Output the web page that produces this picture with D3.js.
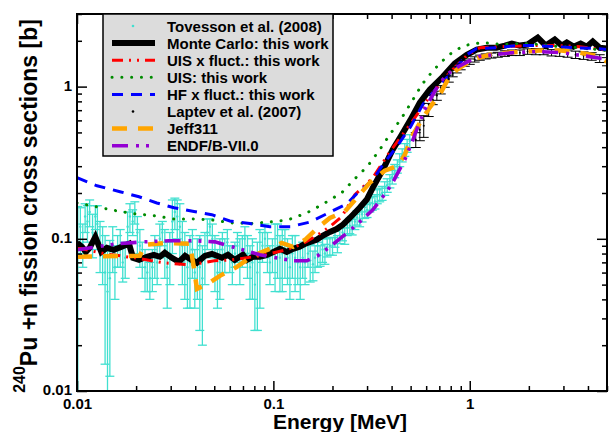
<!DOCTYPE html>
<html><head><meta charset="utf-8">
<script src="https://cdn.jsdelivr.net/npm/d3@7"></script>
<style>
body{margin:0;background:#fff;}
svg{display:block;font-family:"Liberation Sans",Arial,Helvetica,sans-serif;font-weight:bold;}
</style>
</head><body>
<svg width="612" height="432"></svg>
<script>
// ---------------- data ----------------
const xMajorTicks = [0.01, 0.1, 1];
const xTickLabels = ["0.01", "0.1", "1"];
const xMinorTicks = [0.02,0.03,0.04,0.05,0.06,0.07,0.08,0.09,0.2,0.3,0.4,0.5,0.6,0.7,0.8,0.9,2,3,4,5];
const yMajorTicks = [0.01, 0.1, 1];
const yTickLabels = ["0.01", "0.1", "1"];
const yMinorTicks = [0.02,0.03,0.04,0.05,0.06,0.07,0.08,0.09,0.2,0.3,0.4,0.5,0.6,0.7,0.8,0.9,2,3];

const legendLabels = ["Tovesson et al. (2008)","Monte Carlo: this work","UIS x fluct.: this work","UIS: this work","HF x fluct.: this work","Laptev et al. (2007)","Jeff311","ENDF/B-VII.0"];

// Tovesson et al. (2008)
const tovE = [0.0101,0.0104,0.0107,0.0110,0.0113,0.0116,0.0120,0.0124,0.0127,0.0131,
0.0135,0.0139,0.0143,0.0147,0.0152,0.0156,0.0161,0.0166,
0.0171,0.0176,0.0181,0.0186,0.0192,0.0197,0.0203,0.0209,0.0215,0.0222,
0.0228,0.0235,0.0242,0.0249,0.0256,0.0264,0.0272,0.0280,0.0288,0.0297,
0.0306,0.0315,0.0324,0.0334,0.0344,0.0354,0.0365,0.0376,0.0387,0.0398,
0.041,0.0422,0.0435,0.0448,0.0461,0.0475,0.0489,0.0504,0.0519,0.0534,0.055,0.0566,0.0583,0.060,
0.0618,0.0637,0.0656,0.0675,0.0695,0.0716,0.0738,0.076,0.0782,0.0805,0.0829,0.0854,0.088,0.0906,0.0933,0.096,0.0989,
0.102,0.105,0.108,0.111,0.1145,0.118,0.1214,0.125,0.129,0.133,0.137,0.141,0.145,0.15,0.154,0.159,0.163,0.168,0.173,0.178,0.183,0.188,0.194,
0.2,0.206,0.212,0.218,0.225,0.231,0.238,0.245,0.252,0.26,0.267,0.275,0.283,0.292,0.30,0.31,0.319,0.329,0.338,0.348,0.358,0.369,0.38,0.392,0.403,0.415,0.428,0.44,0.453,0.467,0.48,0.495];
const tovS = [0.085,0.12,0.095,0.14,0.13,0.15,0.11,0.14,0.125,0.095,
0.085,0.06,0.045,0.055,0.09,0.065,0.085,0.09,
0.07,0.075,0.12,0.14,0.13,0.15,0.11,0.09,0.075,0.065,
0.06,0.055,0.065,0.08,0.07,0.1,0.11,0.085,0.065,0.08,
0.13,0.15,0.14,0.12,0.09,0.075,0.065,0.07,0.085,0.06,
0.07,0.065,0.055,0.08,0.11,0.12,0.1,0.075,0.06,0.07,0.085,0.08,0.095,0.075,
0.07,0.08,0.09,0.075,0.085,0.1,0.08,0.065,0.07,0.05,0.06,0.075,0.09,0.1,0.085,0.07,0.08,
0.085,0.09,0.075,0.08,0.085,0.075,0.065,0.08,0.075,0.07,0.065,0.075,0.07,0.08,0.072,0.068,0.075,0.08,0.078,0.085,0.08,0.088,0.09,
0.09,0.1,0.093,0.105,0.11,0.105,0.118,0.122,0.12,0.13,0.138,0.135,0.145,0.152,0.155,0.168,0.172,0.176,0.19,0.195,0.2,0.215,0.225,0.24,0.255,0.28,0.3,0.33,0.355,0.385,0.41,0.44];
const tovErr = [0.078,0.04,0.03,0.03,0.035,0.03,0.035,0.025,0.04,0.035,
0.035,0.045,0.038,0.0425,0.03,0.025,0.02,0.025,
0.018,0.02,0.03,0.03,0.025,0.025,0.03,0.025,0.02,0.02,
0.015,0.015,0.02,0.025,0.02,0.025,0.02,0.03,0.03,0.03,
0.05,0.035,0.04,0.05,0.04,0.035,0.03,0.035,0.03,0.025,
0.03,0.04,0.035,0.03,0.025,0.015,0.025,0.03,0.025,0.03,0.025,0.02,0.02,0.015,
0.02,0.015,0.02,0.025,0.02,0.02,0.025,0.025,0.03,0.025,0.035,0.04,0.02,0.025,0.025,0.02,0.02,
0.04,0.035,0.03,0.035,0.03,0.025,0.025,0.025,0.03,0.02,0.025,0.02,0.02,0.015,0.02,0.015,0.015,0.015,0.012,0.015,0.012,0.012,0.012,
0.012,0.012,0.012,0.012,0.013,0.013,0.013,0.014,0.014,0.015,0.015,0.015,0.016,0.016,0.017,0.018,0.018,0.019,0.02,0.02,0.021,0.022,0.023,0.024,0.026,0.028,0.03,0.032,0.035,0.037,0.04,0.043];

// Monte Carlo: this work
const mcE = [0.01,0.0106,0.0111,0.0116,0.0124,0.0133,0.0142,0.0154,0.0169,0.0184,0.0193,0.0207,0.0227,0.0246,0.0264,0.028,0.0304,0.033,0.0355,0.0376,0.0408,0.0448,0.0486,0.0516,0.0547,0.0587,0.0636,0.070,0.0733,0.0787,0.0854,0.0927,0.1,0.108,0.117,0.126,0.136,0.145,0.154,0.166,0.179,0.194,0.21,0.226,0.245,0.275,0.299,0.321,0.361,0.405,0.451,0.5,0.557,0.625,0.729,0.839,0.966,1.086,1.22,1.37,1.51,1.64,1.80,1.97,2.22,2.44,2.71,2.94,3.12,3.38,3.67,3.94,4.23,4.59,5];
const mcS = [0.094,0.0886,0.082,0.0873,0.103,0.082,0.0873,0.0847,0.0886,0.0927,0.075,0.0727,0.0762,0.0785,0.0762,0.0809,0.075,0.0706,0.0773,0.0738,0.0695,0.0773,0.0797,0.0773,0.075,0.0785,0.0727,0.0785,0.0727,0.0762,0.0762,0.0785,0.082,0.0859,0.082,0.0859,0.0886,0.0927,0.0955,0.0985,0.105,0.111,0.116,0.124,0.137,0.160,0.181,0.217,0.284,0.385,0.484,0.607,0.785,0.955,1.16,1.42,1.62,1.75,1.80,1.80,1.86,1.92,1.86,1.89,2.10,1.86,2.04,1.86,1.95,1.83,1.92,1.83,1.98,1.80,1.78];

// UIS x fluct.: this work
const uisFlE = [0.01,0.0139,0.0197,0.0277,0.0376,0.05,0.0615,0.0854,0.117,0.141,0.166,0.194,0.223,0.26,0.321,0.392,0.5,0.625,0.791,0.966,1.125,1.42,2.02,2.87,3.63,4.75,5];
const uisFlS = [0.0873,0.0797,0.075,0.0695,0.0675,0.0717,0.0727,0.0773,0.0847,0.0927,0.105,0.120,0.140,0.195,0.252,0.373,0.571,0.859,1.24,1.60,1.80,1.83,1.86,1.86,1.83,1.75,1.73];

// UIS: this work
const uisE = [0.01,0.01265,0.0158,0.0197,0.0246,0.0312,0.0389,0.0486,0.0615,0.076,0.096,0.1185,0.148,0.183,0.223,0.26,0.303,0.348,0.392,0.451,0.507,0.57,0.656,0.773,0.931,1.16,1.46,1.84,2.30,2.87,3.63,4.53,5];
const uisS = [0.172,0.162,0.153,0.146,0.142,0.135,0.135,0.133,0.127,0.126,0.129,0.133,0.148,0.172,0.201,0.248,0.302,0.385,0.484,0.625,0.797,1.03,1.29,1.60,1.86,1.95,1.89,1.92,1.89,1.83,1.80,1.75,1.73];

// HF x fluct.: this work
const hfE = [0.01,0.01265,0.01655,0.0207,0.0255,0.0312,0.0394,0.0486,0.06,0.076,0.096,0.122,0.154,0.187,0.237,0.266,0.321,0.361,0.425,0.5,0.577,0.68,0.819,0.966,1.086,1.37,1.73,2.19,2.77,3.5,4.43,5];
const hfS = [0.252,0.223,0.204,0.189,0.172,0.160,0.151,0.144,0.131,0.126,0.120,0.120,0.129,0.146,0.170,0.198,0.244,0.307,0.403,0.546,0.762,0.985,1.255,1.62,1.78,1.80,1.86,1.86,1.83,1.80,1.78,1.75];

// Laptev et al. (2007)
const lapE = [0.531,0.557,0.583,0.618,0.648,0.680,0.712,0.746,0.782,0.819,0.859,0.899,0.944,1.0,1.06,1.125,1.205,1.29,1.39,1.51,1.64,1.80,1.97,2.17,2.38,2.61,2.87,3.15,3.46,3.80,4.18,4.59,5];
const lapS = [0.448,0.521,0.554,0.706,0.821,0.873,0.955,1.05,1.13,1.22,1.29,1.35,1.42,1.46,1.51,1.55,1.58,1.60,1.62,1.65,1.67,1.67,1.70,1.70,1.70,1.67,1.67,1.65,1.62,1.60,1.58,1.53,1.46];
const lapErr = [0.05,0.08,0.09,0.07,0.06,0.06,0.06,0.06,0.06,0.06,0.06,0.06,0.06,0.06,0.06,0.06,0.06,0.06,0.06,0.07,0.07,0.07,0.07,0.08,0.08,0.08,0.09,0.09,0.09,0.09,0.09,0.09,0.09];

// Jeff311
const jeffE = [0.01,0.0209,0.0222,0.0287,0.0376,0.0394,0.0408,0.0464,0.0534,0.0652,0.0787,0.096,0.110,0.126,0.145,0.168,0.194,0.231,0.269,0.31,0.369,0.431,0.467,0.507,0.57,0.625,0.703,0.773,0.859,1.036,1.26,1.54,2.27,2.87,3.63,4.59,5];
const jeffS = [0.0762,0.0774,0.0914,0.094,0.0927,0.0645,0.0469,0.0506,0.0571,0.0654,0.0774,0.0859,0.094,0.0886,0.0985,0.118,0.137,0.151,0.189,0.234,0.280,0.302,0.357,0.469,0.607,0.728,0.886,1.11,1.29,1.51,1.62,1.67,1.73,1.73,1.67,1.58,1.46];

// ENDF/B-VII.0
const endfE = [0.01,0.01265,0.016,0.0219,0.0294,0.0408,0.0504,0.0615,0.0854,0.126,0.148,0.168,0.194,0.239,0.275,0.321,0.361,0.40,0.467,0.507,0.544,0.59,0.641,0.703,0.791,0.889,1,1.125,1.64,2.19,2.94,4,5];
const endfS = [0.0847,0.0886,0.0927,0.0955,0.097,0.097,0.0955,0.0886,0.0785,0.0717,0.0717,0.0773,0.0886,0.110,0.129,0.155,0.189,0.227,0.331,0.428,0.545,0.706,0.86,1.06,1.24,1.37,1.48,1.58,1.67,1.70,1.67,1.58,1.51];

// ---------------- chart ----------------
const W = 612, H = 432;
const M = {left: 77, right: 607, top: 14, bottom: 391};
const x = d3.scaleLog().domain([0.01, 5]).range([M.left, M.right]);
const y = d3.scaleLog().domain([0.01, 3]).range([M.bottom, M.top]);

const svg = d3.select("svg");
svg.append("rect").attr("width", W).attr("height", H).attr("fill", "#fff");
svg.append("defs").append("clipPath").attr("id", "clip")
  .append("rect").attr("x", M.left).attr("y", M.top)
  .attr("width", M.right - M.left).attr("height", M.bottom - M.top);

const plot = svg.append("g").attr("clip-path", "url(#clip)");
const zip = (a, b) => a.slice(0, Math.min(a.length, b.length)).map((v, i) => [v, b[i]]);
const line = d3.line().x(d => x(d[0])).y(d => y(d[1]));

function errorBars(g, E, S, Err, color, cap, r, sw) {
  const n = Math.min(E.length, S.length, Err.length);
  for (let i = 0; i < n; i++) {
    const cx = x(E[i]);
    const yHi = y(S[i] + Err[i]);
    const lo = S[i] - Err[i];
    const yLo = lo > 0 ? y(lo) : M.bottom + 20;
    g.append("line").attr("x1", cx).attr("x2", cx).attr("y1", yHi).attr("y2", yLo)
      .attr("stroke", color).attr("stroke-width", sw);
    g.append("line").attr("x1", cx - cap).attr("x2", cx + cap).attr("y1", yHi).attr("y2", yHi)
      .attr("stroke", color).attr("stroke-width", sw);
    if (lo > 0) g.append("line").attr("x1", cx - cap).attr("x2", cx + cap).attr("y1", yLo).attr("y2", yLo)
      .attr("stroke", color).attr("stroke-width", sw);
    g.append("circle").attr("cx", cx).attr("cy", y(S[i])).attr("r", r).attr("fill", color);
  }
}

const styles = {
  tov:  {color: "#40e0d0"},
  mc:   {color: "#000000", width: 6, dash: null},
  red:  {color: "#ff0000", width: 3, dash: "11,6,2,6,2,6"},
  green:{color: "#008b00", width: 3, dash: "0.1,9.7", cap: "round"},
  blue: {color: "#0000ff", width: 3, dash: "11,8"},
  lap:  {color: "#000000"},
  jeff: {color: "#ffa500", width: 4.5, dash: "15,11"},
  endf: {color: "#9400d3", width: 3.6, dash: "16,8,3,7,3,7"}
};

function drawLine(E, S, st) {
  const p = plot.append("path").datum(zip(E, S)).attr("d", line)
    .attr("fill", "none").attr("stroke", st.color).attr("stroke-width", st.width)
    .attr("stroke-linejoin", "miter").attr("stroke-miterlimit", 4);
  if (st.dash) p.attr("stroke-dasharray", st.dash);
  if (st.cap) p.attr("stroke-linecap", st.cap);
}

errorBars(plot.append("g"), tovE, tovS, tovErr, styles.tov.color, 4.5, 1.2, 1.3);
drawLine(mcE, mcS, styles.mc);
drawLine(uisFlE, uisFlS, styles.red);
drawLine(uisE, uisS, styles.green);
drawLine(hfE, hfS, styles.blue);
errorBars(plot.append("g"), lapE, lapS, lapErr, styles.lap.color, 5, 1, 1);
drawLine(jeffE, jeffS, styles.jeff);
drawLine(endfE, endfS, styles.endf);

// ---------------- axes ----------------
function styleAxis(g) {
  g.select(".domain").remove();
  g.selectAll(".tick line").attr("stroke", "#000").attr("stroke-width", 1.5);
  g.selectAll("text").attr("font-size", 15).attr("font-weight", "bold")
    .attr("font-family", "'Liberation Sans', Arial, sans-serif").attr("fill", "#000");
}
const lbl = (arr, ticks) => (d) => arr[ticks.indexOf(d)];

svg.append("g").attr("transform", `translate(0,${M.bottom})`)
  .call(d3.axisBottom(x).tickValues(xMajorTicks).tickFormat(lbl(xTickLabels, xMajorTicks)).tickSizeInner(-10).tickSizeOuter(0).tickPadding(7.5))
  .call(styleAxis);
svg.append("g").attr("transform", `translate(0,${M.bottom})`)
  .call(d3.axisBottom(x).tickValues(xMinorTicks).tickFormat("").tickSizeInner(-5).tickSizeOuter(0))
  .call(styleAxis);
svg.append("g").attr("transform", `translate(0,${M.top})`)
  .call(d3.axisTop(x).tickValues(xMajorTicks).tickFormat("").tickSizeInner(-10).tickSizeOuter(0))
  .call(styleAxis);
svg.append("g").attr("transform", `translate(0,${M.top})`)
  .call(d3.axisTop(x).tickValues(xMinorTicks).tickFormat("").tickSizeInner(-5).tickSizeOuter(0))
  .call(styleAxis);
const yAx = svg.append("g").attr("transform", `translate(${M.left},0)`)
  .call(d3.axisLeft(y).tickValues(yMajorTicks).tickFormat(lbl(yTickLabels, yMajorTicks)).tickSizeInner(-10).tickSizeOuter(0).tickPadding(5))
  .call(styleAxis);
yAx.selectAll("text").attr("dy", "0.25em");
svg.append("g").attr("transform", `translate(${M.left},0)`)
  .call(d3.axisLeft(y).tickValues(yMinorTicks).tickFormat("").tickSizeInner(-5).tickSizeOuter(0))
  .call(styleAxis);
svg.append("g").attr("transform", `translate(${M.right},0)`)
  .call(d3.axisRight(y).tickValues(yMajorTicks).tickFormat("").tickSizeInner(-10).tickSizeOuter(0))
  .call(styleAxis);
svg.append("g").attr("transform", `translate(${M.right},0)`)
  .call(d3.axisRight(y).tickValues(yMinorTicks).tickFormat("").tickSizeInner(-5).tickSizeOuter(0))
  .call(styleAxis);

svg.append("rect").attr("x", M.left).attr("y", M.top)
  .attr("width", M.right - M.left).attr("height", M.bottom - M.top)
  .attr("fill", "none").attr("stroke", "#000").attr("stroke-width", 2);

// axis titles
svg.append("text").attr("x", 340).attr("y", 429).attr("text-anchor", "middle")
  .attr("font-size", 21).attr("font-weight", "bold").text("Energy [MeV]");
const yt = svg.append("text").attr("transform", "translate(37,206) rotate(-90)")
  .attr("text-anchor", "middle").attr("font-weight", "bold");
yt.append("tspan").attr("font-size", 16).attr("dy", -12).text("240");
yt.append("tspan").attr("font-size", 23).attr("dy", 12).text("Pu +n fission cross sections [b]");

// ---------------- legend ----------------
const lg = svg.append("g");
lg.append("rect").attr("x", 103).attr("y", M.top).attr("width", 230).attr("height", 142)
  .attr("fill", "#dcdcdc").attr("stroke", "#000").attr("stroke-width", 1.5);
const legendStyles = [styles.tov, styles.mc, styles.red, styles.green, styles.blue, styles.lap, styles.jeff, styles.endf];
legendLabels.forEach((t, i) => {
  const cy = 26 + i * 17.1;
  const st = legendStyles[i];
  if (i === 0 || i === 5) {
    lg.append("circle").attr("cx", 133).attr("cy", cy).attr("r", 1.3).attr("fill", st.color);
  } else {
    const l = lg.append("line").attr("x1", 112).attr("x2", 155).attr("y1", cy).attr("y2", cy)
      .attr("stroke", st.color).attr("stroke-width", st.width);
    if (st.dash) l.attr("stroke-dasharray", st.dash);
    if (st.cap) l.attr("stroke-linecap", st.cap);
  }
  lg.append("text").attr("x", 167).attr("y", cy + 5.5).attr("font-size", 15)
    .attr("font-weight", "bold").attr("fill", "#000").text(t);
});
</script>
</body></html>
